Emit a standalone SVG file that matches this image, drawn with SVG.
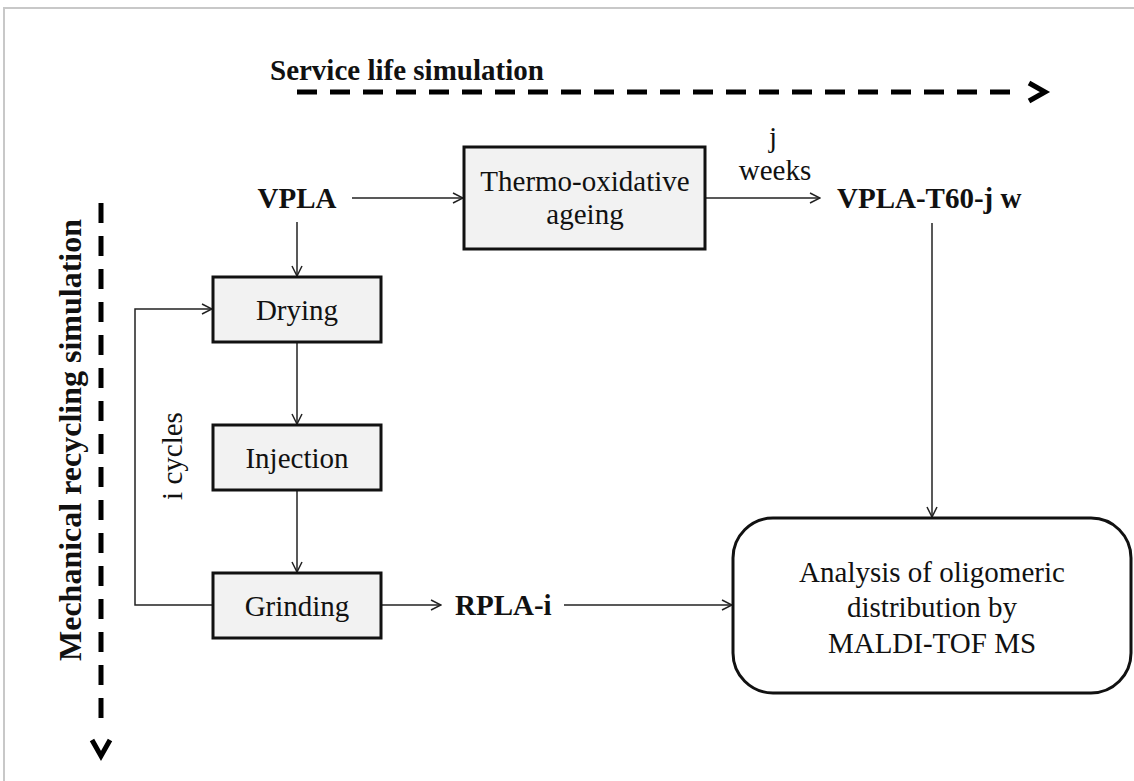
<svg xmlns="http://www.w3.org/2000/svg" width="1134" height="781" viewBox="0 0 1134 781">
<defs>
<marker id="ah" viewBox="0 0 12 12" refX="11" refY="6" markerWidth="12" markerHeight="12" markerUnits="userSpaceOnUse" orient="auto">
<polyline points="1,1 11,6 1,11" fill="none" stroke="#222" stroke-width="1.5"/>
</marker>
</defs>
<style>
text{font-family:"Liberation Serif","Times New Roman",serif;font-size:29px;fill:#111}
.b{font-weight:bold}
.box{fill:#f2f2f2;stroke:#111;stroke-width:3}
.ca{fill:none;stroke:#222;stroke-width:1.5;marker-end:url(#ah)}
.d{fill:none;stroke:#000;stroke-width:5;stroke-dasharray:20 13}
.ch{fill:none;stroke:#000;stroke-width:5;stroke-linejoin:miter}
</style>
<rect x="4" y="8" width="1140" height="790" fill="#fff" stroke="#c8c8c8" stroke-width="2"/>

<g id="service-life">
<text class="b" x="270" y="80">Service life simulation</text>
<line class="d" x1="297" y1="92" x2="1016" y2="92"/>
<polyline class="ch" points="1029,83 1045,92 1029,101"/>
</g>

<g id="mechanical-recycling">
<text class="b" transform="translate(81,440) rotate(-90)" text-anchor="middle" style="font-size:32px">Mechanical recycling simulation</text>
<line class="d" x1="101" y1="203" x2="101" y2="718"/>
<polyline class="ch" points="92,740 101,756 110,740"/>
</g>

<g id="connectors">
<line class="ca" x1="352" y1="198" x2="463" y2="198"/>
<line class="ca" x1="705" y1="198" x2="820" y2="198"/>
<line class="ca" x1="932" y1="223" x2="932" y2="517"/>
<line class="ca" x1="297" y1="222" x2="297" y2="276"/>
<line class="ca" x1="297" y1="342" x2="297" y2="424"/>
<line class="ca" x1="297" y1="490" x2="297" y2="572"/>
<polyline class="ca" points="213,605 135,605 135,309 212,309"/>
<line class="ca" x1="381" y1="605" x2="441" y2="605"/>
<line class="ca" x1="564" y1="605" x2="732" y2="605"/>
<text x="773" y="147" text-anchor="middle">j</text>
<text x="775" y="180" text-anchor="middle">weeks</text>
<text transform="translate(182,456) rotate(-90)" text-anchor="middle">i cycles</text>
</g>

<g id="vpla">
<text class="b" x="297" y="208" text-anchor="middle">VPLA</text>
</g>

<g id="thermo">
<rect class="box" x="464" y="147" width="241" height="102"/>
<text x="585" y="191" text-anchor="middle">Thermo-oxidative</text>
<text x="585" y="224" text-anchor="middle">ageing</text>
</g>

<g id="vpla-t60">
<text class="b" x="837" y="208">VPLA-T60-j w</text>
</g>

<g id="drying">
<rect class="box" x="213" y="277" width="168" height="65"/>
<text x="297" y="320" text-anchor="middle">Drying</text>
</g>

<g id="injection">
<rect class="box" x="213" y="425" width="168" height="65"/>
<text x="297" y="468" text-anchor="middle">Injection</text>
</g>

<g id="grinding">
<rect class="box" x="213" y="573" width="168" height="65"/>
<text x="297" y="616" text-anchor="middle">Grinding</text>
</g>

<g id="rpla">
<text class="b" x="455" y="615">RPLA-i</text>
</g>

<g id="analysis">
<rect x="733" y="518" width="398" height="175" rx="40" ry="40" fill="#fff" stroke="#111" stroke-width="3"/>
<text x="932" y="582" text-anchor="middle">Analysis of oligomeric</text>
<text x="932" y="617" text-anchor="middle">distribution by</text>
<text x="932" y="653" text-anchor="middle">MALDI-TOF MS</text>
</g>
</svg>
